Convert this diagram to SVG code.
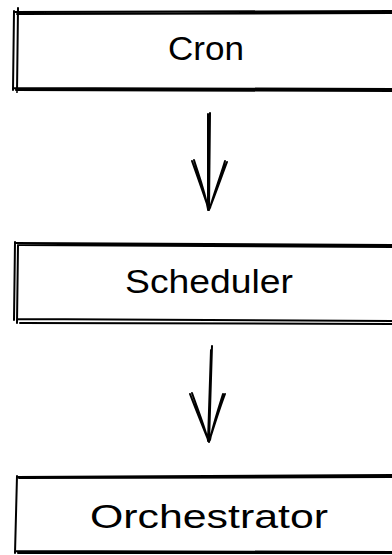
<svg xmlns="http://www.w3.org/2000/svg" width="392" height="555" viewBox="0 0 392 555">
<style>
.s{fill:none;stroke:#000;stroke-width:2;stroke-linecap:round;stroke-linejoin:round}
.t{font-family:"Liberation Sans",Arial,sans-serif;font-size:33px;fill:#000;text-anchor:middle}
</style>
<rect width="392" height="555" fill="#fff"/>
<g id="cron">
<path class="s" d="M14 12 L400 11 M17 14 L400 13 M14 88 L400 89 M16 90 L400 91 M14 11 L13 90 M18 8 L17 92"/>
<text class="t" x="206" y="60" textLength="76" lengthAdjust="spacingAndGlyphs">Cron</text>
</g>
<g id="scheduler">
<path class="s" d="M16 243 L400 245 M19 245 L400 247 M17 319 L400 321 M20 323 L400 324 M15 242 L14 320 M18 245 L17 323"/>
<text class="t" x="209" y="293" textLength="168" lengthAdjust="spacingAndGlyphs">Scheduler</text>
</g>
<g id="orchestrator">
<path class="s" d="M17 477 L400 475 M19 478 L400 477 M15 551 L400 552 M18 553 L400 553 M17 476 L15 553"/>
<text class="t" x="209" y="528" textLength="238" lengthAdjust="spacingAndGlyphs">Orchestrator</text>
</g>
<g id="connectors">
<path class="s" d="M208 114 L208 210 M210 113 L209 208 M192 161 C198 178 204 195 209 210 M194 160 C199 176 205 192 208 209 M227 162 C221 178 215 195 209 210 M225 161 C220 178 214 193 210 208"/>
<path class="s" d="M212 346 L209 442 M211 350 L208 441 M190 394 C196 410 203 427 209 442 M192 393 C198 410 204 425 208 440 M225 394 C219 410 214 426 209 442 M223 394 C218 410 213 425 210 440"/>
</g>
</svg>
